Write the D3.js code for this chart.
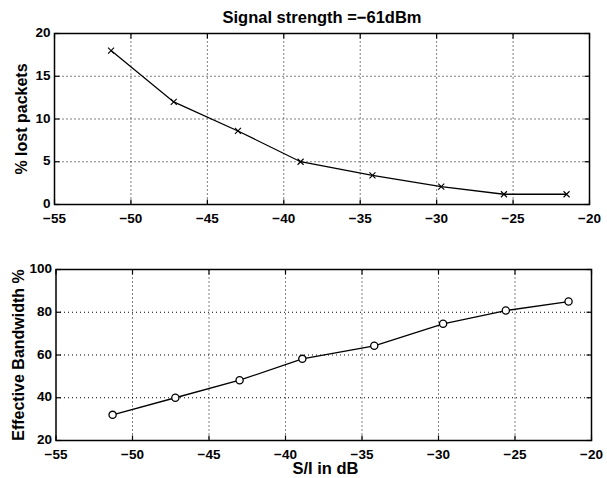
<!DOCTYPE html>
<html>
<head>
<meta charset="utf-8">
<script src="https://cdn.jsdelivr.net/npm/d3@7"></script>
<style>
  body { margin: 0; background: #fff; }
  svg { display: block; }
</style>
</head>
<body>
<div id="chart"></div>
<script>
// data
const snrValues = [-51.3, -47.2, -43.0, -38.9, -34.2, -29.7, -25.6, -21.5];
const lostPackets = [18.0, 12.0, 8.6, 5.0, 3.4, 2.1, 1.2, 1.2];
const effBandwidth = [32, 40, 48.2, 58.2, 64.3, 74.6, 80.8, 85.0];
const xTicks = [-55, -50, -45, -40, -35, -30, -25, -20];
const lostTicks = [0, 5, 10, 15, 20];
const bwTicks = [20, 40, 60, 80, 100];

const width = 607, height = 478;
const font = "'Liberation Sans', Arial, Helvetica, sans-serif";

const svg = d3.select("#chart").append("svg")
    .attr("width", width).attr("height", height)
    .style("font-family", font);

const fmt = v => (v < 0 ? "\u2212" + Math.abs(v) : String(v));

function drawPanel(opts) {
    const x = d3.scaleLinear().domain([-55, -20]).range([opts.left, opts.right]);
    const y = d3.scaleLinear().domain(opts.yDomain).range([opts.bottom, opts.top]);
    const g = svg.append("g");

    // dotted grid
    g.selectAll("line.vgrid").data(xTicks.slice(1, -1)).enter().append("line")
        .attr("x1", d => x(d)).attr("x2", d => x(d))
        .attr("y1", opts.top).attr("y2", opts.bottom)
        .attr("stroke", "#000").attr("stroke-width", 1)
        .attr("stroke-dasharray", "1,3");
    g.selectAll("line.hgrid").data(opts.yTicks.slice(1, -1)).enter().append("line")
        .attr("x1", opts.left).attr("x2", opts.right)
        .attr("y1", d => y(d)).attr("y2", d => y(d))
        .attr("stroke", "#000").attr("stroke-width", 1)
        .attr("stroke-dasharray", "1,3");

    // inward ticks on all sides
    const tk = 5;
    xTicks.forEach(t => {
        g.append("line").attr("x1", x(t)).attr("x2", x(t))
            .attr("y1", opts.bottom).attr("y2", opts.bottom - tk)
            .attr("stroke", "#000").attr("stroke-width", 1.2);
        g.append("line").attr("x1", x(t)).attr("x2", x(t))
            .attr("y1", opts.top).attr("y2", opts.top + tk)
            .attr("stroke", "#000").attr("stroke-width", 1.2);
    });
    opts.yTicks.forEach(t => {
        g.append("line").attr("x1", opts.left).attr("x2", opts.left + tk)
            .attr("y1", y(t)).attr("y2", y(t))
            .attr("stroke", "#000").attr("stroke-width", 1.2);
        g.append("line").attr("x1", opts.right).attr("x2", opts.right - tk)
            .attr("y1", y(t)).attr("y2", y(t))
            .attr("stroke", "#000").attr("stroke-width", 1.2);
    });

    // box
    g.append("rect")
        .attr("x", opts.left).attr("y", opts.top)
        .attr("width", opts.right - opts.left).attr("height", opts.bottom - opts.top)
        .attr("fill", "none").attr("stroke", "#000").attr("stroke-width", 1.5);

    // tick labels
    g.selectAll("text.xt").data(xTicks).enter().append("text")
        .attr("x", d => x(d)).attr("y", opts.bottom + 18)
        .attr("text-anchor", "middle")
        .style("font-size", "13.5px").style("font-weight", "bold")
        .text(fmt);
    g.selectAll("text.yt").data(opts.yTicks).enter().append("text")
        .attr("x", opts.left - 4).attr("y", d => y(d) + 3.5)
        .attr("text-anchor", "end")
        .style("font-size", "13.5px").style("font-weight", "bold")
        .text(fmt);

    // y label
    g.append("text")
        .attr("transform", `translate(${opts.yLabelX}, ${(opts.top + opts.bottom) / 2}) rotate(-90)`)
        .attr("text-anchor", "middle")
        .style("font-size", "16px").style("font-weight", "bold")
        .text(opts.yLabel);

    // line + markers
    const pts = snrValues.map((v, i) => [v, opts.values[i]]);
    g.append("path").datum(pts)
        .attr("d", d3.line().x(d => x(d[0])).y(d => y(d[1])))
        .attr("fill", "none").attr("stroke", "#000").attr("stroke-width", 1.3);

    if (opts.marker === "x") {
        const s = 3;
        g.selectAll("path.mk").data(pts).enter().append("path")
            .attr("d", d => `M${x(d[0]) - s},${y(d[1]) - s}L${x(d[0]) + s},${y(d[1]) + s}` +
                            `M${x(d[0]) - s},${y(d[1]) + s}L${x(d[0]) + s},${y(d[1]) - s}`)
            .attr("stroke", "#000").attr("stroke-width", 1.1).attr("fill", "none");
    } else {
        g.selectAll("circle.mk").data(pts).enter().append("circle")
            .attr("cx", d => x(d[0])).attr("cy", d => y(d[1])).attr("r", 3.6)
            .attr("fill", "#fff").attr("stroke", "#000").attr("stroke-width", 1.3);
    }
    return x;
}

drawPanel({
    left: 54.5, right: 589.5, top: 33.5, bottom: 204.5,
    yDomain: [0, 20], yTicks: lostTicks, values: lostPackets,
    yLabel: "% lost packets", yLabelX: 27, marker: "x"
});

drawPanel({
    left: 56, right: 591.5, top: 269.5, bottom: 440.5,
    yDomain: [20, 100], yTicks: bwTicks, values: effBandwidth,
    yLabel: "Effective Bandwidth %", yLabelX: 24, marker: "o"
});

// title and x label
svg.append("text")
    .attr("x", 322).attr("y", 23)
    .attr("text-anchor", "middle")
    .style("font-size", "16.5px").style("font-weight", "bold")
    .text("Signal strength =\u221261dBm");

svg.append("text")
    .attr("x", 325.5).attr("y", 473.5)
    .attr("text-anchor", "middle")
    .style("font-size", "16.5px").style("font-weight", "bold")
    .text("S/I in dB");
</script>
</body>
</html>
